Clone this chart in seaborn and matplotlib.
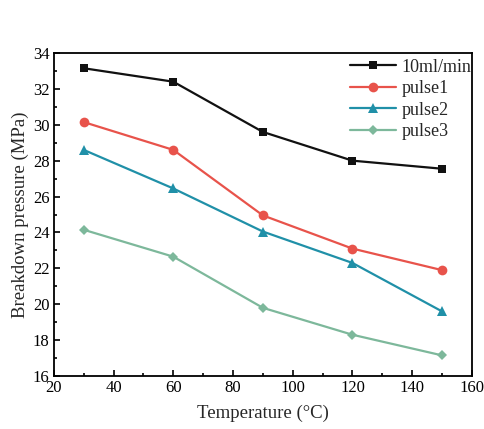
import matplotlib
matplotlib.use("Agg")
import matplotlib.pyplot as plt
import seaborn as sns
import pandas as pd
from matplotlib.ticker import MultipleLocator

temperature = [30, 60, 90, 120, 150]
rate_10ml = [33.15, 32.4, 29.6, 28.0, 27.55]
pulse1 = [30.15, 28.6, 24.95, 23.1, 21.9]
pulse2 = [28.6, 26.45, 24.05, 22.3, 19.6]
pulse3 = [24.15, 22.65, 19.8, 18.3, 17.15]
series_names = ["10ml/min", "pulse1", "pulse2", "pulse3"]

sns.set_theme(style="ticks")
plt.rcParams['font.family'] = ['Liberation Serif', 'DejaVu Serif']

df = pd.DataFrame({
    "Temperature": temperature * 4,
    "Pressure": rate_10ml + pulse1 + pulse2 + pulse3,
    "Series": sum([[n] * len(temperature) for n in series_names], []),
})

colors = ["#111111", "#E8534B", "#2090A8", "#7DB89B"]
markers = ["s", "o", "^", "D"]
msizes = [6, 7, 7, 5.5]

fig = plt.figure(figsize=(4.85, 4.29), dpi=100)
ax = fig.add_axes([0.111, 0.1235, 0.862, 0.753])
for name, c, m, ms in zip(series_names, colors, markers, msizes):
    sub = df[df["Series"] == name]
    sns.lineplot(data=sub, x="Temperature", y="Pressure", ax=ax, color=c,
                 marker=m, markersize=ms, markeredgewidth=0, linewidth=1.6,
                 label=name)

ax.set_xlim(20, 160)
ax.set_ylim(16, 34)
ax.xaxis.set_major_locator(MultipleLocator(20))
ax.xaxis.set_minor_locator(MultipleLocator(10))
ax.yaxis.set_major_locator(MultipleLocator(2))
ax.yaxis.set_minor_locator(MultipleLocator(1))
ax.tick_params(which="both", direction="in", top=False, right=False,
               labelsize=12, colors="black", width=1.2, pad=3)
ax.tick_params(which="major", length=4)
ax.tick_params(which="minor", length=2)
for s in ax.spines.values():
    s.set_linewidth(1.3)
    s.set_color("black")
ax.set_xlabel("Temperature (°C)", fontsize=13.5, labelpad=6)
ax.set_ylabel("Breakdown pressure (MPa)", fontsize=13.5, labelpad=3)
leg = ax.legend(loc="upper left", bbox_to_anchor=(0.69, 1.005), frameon=False,
                fontsize=13, handlelength=2.6, handletextpad=0.3,
                labelspacing=0.25, borderaxespad=0.0)
fig.savefig("out.png", dpi=100)
